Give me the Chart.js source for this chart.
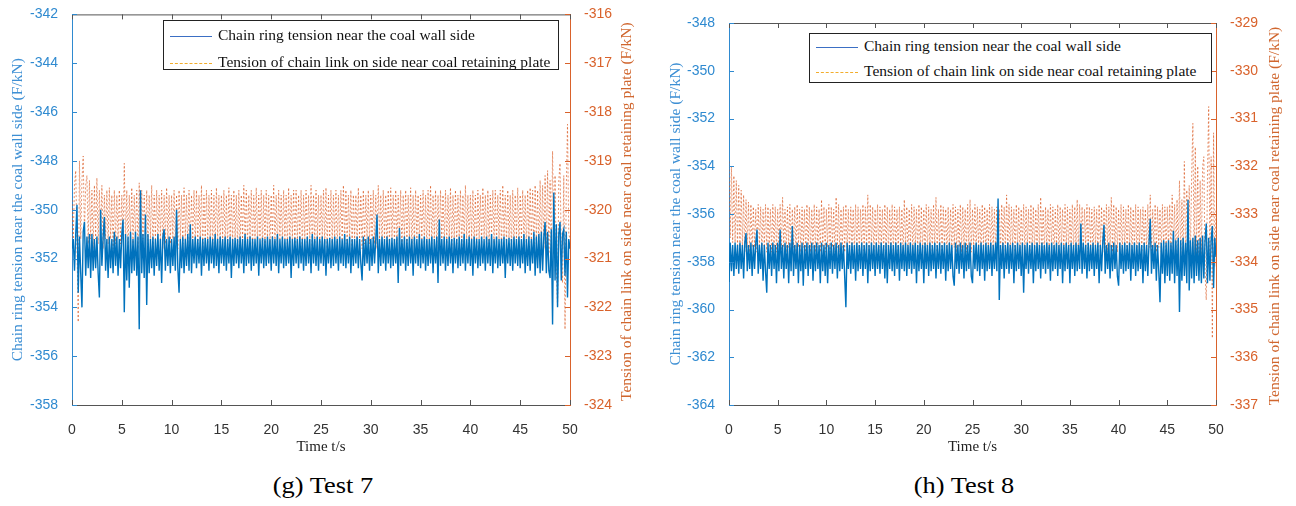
<!DOCTYPE html>
<html>
<head>
<meta charset="utf-8">
<script src="https://cdn.jsdelivr.net/npm/chart.js@4.4.1/dist/chart.umd.min.js"></script>
<style>
  body { margin: 0; width: 1296px; height: 506px; background: #fff; position: relative; overflow: hidden; }
  .panel { position: absolute; top: 0; width: 648px; height: 470px; }
  .legend { position: absolute; border: 1px solid #222; background: #fff; font-family: 'Liberation Serif', serif; font-size: 15.5px; color: #111; }
  .legend .row { position: absolute; left: 6px; height: 20px; line-height: 20px; white-space: nowrap; }
  .legend .solid, .legend .dash { display: inline-block; width: 42px; height: 0; vertical-align: middle; margin-right: 6px; }
  .legend .solid { border-top: 1.5px solid #3b6fc4; }
  .legend .dash { border-top: 1.5px dashed #f2ad2c; }
  .caption { position: absolute; top: 472px; width: 200px; text-align: center; font-family: 'Liberation Serif', serif; font-size: 24px; color: #000; transform: scaleX(1.1); }
</style>
</head>
<body>
<div class="panel" style="left:0"><canvas id="test7" width="648" height="470"></canvas></div>
<div class="panel" style="left:648px"><canvas id="test8" width="648" height="470"></canvas></div>

<div class="legend" style="left:163px;top:20px;width:394px;height:48px">
  <div class="row" style="top:4px"><span class="solid"></span>Chain ring tension near the coal wall side</div>
  <div class="row" style="top:31px"><span class="dash"></span>Tension of chain link on side near coal retaining plate</div>
</div>
<div class="legend" style="left:809px;top:33px;width:401px;height:48px">
  <div class="row" style="top:2px"><span class="solid"></span>Chain ring tension near the coal wall side</div>
  <div class="row" style="top:27px"><span class="dash"></span>Tension of chain link on side near coal retaining plate</div>
</div>

<div class="caption" style="left:223px">(g) Test 7</div>
<div class="caption" style="left:864px">(h) Test 8</div>

<script>
// sampling: one reading every 0.125 s, 0..50 s
var timeStep = 0.125;
var times = [];
for (var i = 0; i <= 400; i++) times.push(i * timeStep);

var wallLabel = 'Chain ring tension near the coal wall side';
var plateLabel = 'Tension of chain link on side near coal retaining plate';
var leftTitle = 'Chain ring tension near the coal wall side (F/kN)';
var rightTitle = 'Tension of chain link on side near coal retaining plate (F/kN)';

// Test 7 - coal wall side (left axis)
var wall7 = [
  -351.6, -351.2, -352.5, -351.0, -349.8, -353.4, -351.1, -352.6, -354.0, -350.9, -350.5, -352.7, -351.1, -352.4, -351.0, -352.8, -351.0, -352.5, -351.2, -352.4,
  -351.1, -352.6, -353.6, -350.0, -352.3, -351.1, -350.3, -352.5, -351.2, -352.8, -351.1, -352.4, -351.2, -352.6, -350.9, -352.3, -351.1, -352.7, -351.2, -352.4,
  -351.0, -350.4, -354.2, -351.0, -352.9, -351.1, -353.2, -350.9, -352.6, -351.2, -352.5, -350.9, -352.7, -351.1, -354.9, -349.2, -352.6, -351.0, -352.8, -350.2,
  -353.9, -351.0, -352.6, -351.2, -352.4, -351.1, -352.7, -351.2, -352.3, -351.0, -352.5, -351.2, -353.0, -351.1, -350.8, -352.5, -351.2, -352.3, -351.1, -352.6,
  -351.2, -352.3, -351.1, -352.5, -350.0, -352.4, -353.4, -351.2, -352.4, -351.1, -352.6, -351.2, -352.3, -351.0, -352.5, -350.6, -352.6, -351.2, -352.2, -351.1,
  -352.4, -351.2, -352.2, -351.1, -352.7, -351.2, -352.3, -351.15, -352.2, -351.2, -352.5, -351.1, -352.2, -351.2, -352.4, -351.0, -352.3, -351.2, -352.6, -351.1,
  -352.2, -351.2, -352.3, -351.1, -352.5, -351.2, -352.2, -351.1, -352.8, -351.2, -352.3, -351.15, -352.2, -351.2, -352.4, -351.1, -352.2, -351.2, -352.6, -351.0,
  -352.3, -351.2, -352.2, -351.1, -352.5, -351.2, -352.3, -351.2, -352.2, -351.1, -352.7, -351.2, -352.2, -351.15, -352.4, -351.2, -352.3, -351.1, -352.2, -351.2,
  -352.5, -351.1, -352.2, -351.2, -352.3, -351.0, -352.6, -351.2, -352.2, -351.1, -352.4, -351.2, -352.3, -351.2, -352.2, -351.1, -352.8, -351.2, -352.3, -351.15,
  -352.2, -351.2, -352.4, -351.1, -352.2, -351.2, -352.5, -351.2, -352.3, -351.1, -352.2, -351.2, -352.6, -351.0, -352.2, -351.2, -352.3, -351.1, -352.5, -351.2,
  -352.2, -351.1, -352.3, -351.2, -352.7, -351.2, -352.2, -351.15, -352.4, -351.2, -352.3, -351.1, -352.2, -351.2, -352.5, -351.1, -352.2, -351.2, -352.3, -351.0,
  -352.4, -351.2, -352.2, -351.1, -352.6, -351.2, -352.3, -351.2, -352.2, -351.1, -352.4, -351.2, -352.2, -352.9, -351.1, -352.3, -351.2, -352.2, -351.1, -352.5,
  -351.2, -352.3, -351.1, -352.2, -351.2, -350.2, -352.6, -351.2, -352.3, -351.1, -352.2, -351.2, -352.5, -351.1, -352.2, -351.2, -352.4, -351.15, -352.3, -351.2,
  -352.2, -351.1, -353.0, -350.75, -352.3, -351.2, -352.2, -351.1, -352.5, -351.2, -352.3, -351.1, -352.2, -351.2, -352.7, -351.1, -352.2, -351.2, -352.3, -351.0,
  -352.4, -351.2, -352.2, -351.1, -352.5, -351.2, -352.3, -351.2, -352.2, -351.1, -352.6, -351.2, -352.2, -351.1, -353.0, -350.4, -352.3, -351.2, -352.2, -351.1,
  -352.5, -351.2, -352.3, -351.1, -352.2, -351.2, -352.6, -351.15, -352.2, -351.2, -352.4, -351.1, -352.3, -351.2, -352.2, -351.0, -352.5, -351.2, -352.2, -351.1,
  -352.3, -351.2, -352.7, -351.1, -352.2, -351.2, -352.4, -351.2, -352.3, -351.1, -352.2, -351.2, -352.5, -351.1, -352.2, -351.2, -352.3, -351.0, -352.6, -351.2,
  -352.2, -351.1, -352.4, -351.2, -352.3, -351.2, -352.2, -351.1, -352.8, -351.2, -352.2, -351.15, -352.3, -351.2, -352.5, -351.1, -352.2, -351.2, -352.3, -351.1,
  -352.4, -351.2, -352.2, -351.0, -352.6, -351.2, -352.3, -351.1, -352.5, -351.2, -352.2, -350.9, -352.7, -351.1, -352.4, -351.0, -352.6, -350.9, -352.5, -351.1,
  -350.5, -352.6, -350.9, -352.5, -352.8, -350.8, -354.7, -349.3, -352.9, -350.6, -354.0, -351.0, -350.5, -352.9, -351.0, -350.8, -352.7, -350.9, -353.6, -351.2,
  -351.6
];

// Test 7 - coal retaining plate side (right axis)
var plate7 = [
  -319.8, -320.6, -319.5, -319.2, -320.7, -322.3, -319.0, -320.6, -319.4, -318.9, -320.5, -319.5, -319.3, -320.7, -319.4, -320.6, -319.6, -320.8, -319.5, -320.6,
  -319.35, -320.7, -319.6, -320.6, -319.5, -320.8, -319.7, -320.6, -319.6, -320.7, -319.55, -320.6, -319.7, -320.8, -319.6, -320.7, -319.7, -320.6, -319.6, -320.7,
  -319.7, -320.6, -319.05, -320.7, -319.6, -320.8, -319.7, -320.6, -319.55, -320.7, -319.7, -320.6, -319.6, -320.8, -319.45, -320.7, -319.6, -320.6, -319.7, -320.7,
  -319.6, -320.7, -319.7, -320.6, -319.5, -320.8, -319.7, -320.6, -319.6, -320.7, -319.7, -320.6, -319.6, -320.8, -319.7, -320.7, -319.55, -320.6, -319.7, -320.7,
  -319.7, -320.6, -319.6, -320.7, -319.7, -320.8, -319.6, -320.6, -319.7, -320.7, -319.55, -320.6, -319.7, -320.8, -319.6, -320.7, -319.7, -320.6, -319.6, -320.7,
  -319.6, -320.7, -319.7, -320.6, -319.5, -320.8, -319.7, -320.6, -319.6, -320.7, -319.7, -320.6, -319.6, -320.8, -319.7, -320.7, -319.55, -320.6, -319.7, -320.7,
  -319.7, -320.6, -319.6, -320.7, -319.7, -320.8, -319.55, -320.6, -319.7, -320.7, -319.6, -320.6, -319.7, -320.8, -319.6, -320.7, -319.7, -320.6, -319.5, -320.7,
  -319.6, -320.7, -319.7, -320.6, -319.6, -320.8, -319.7, -320.6, -319.55, -320.7, -319.7, -320.6, -319.6, -320.8, -319.7, -320.7, -319.6, -320.6, -319.7, -320.7,
  -319.7, -320.6, -319.5, -320.7, -319.7, -320.8, -319.6, -320.6, -319.7, -320.7, -319.6, -320.6, -319.7, -320.8, -319.55, -320.7, -319.7, -320.6, -319.6, -320.7,
  -319.6, -320.7, -319.7, -320.6, -319.6, -320.8, -319.7, -320.6, -319.6, -320.7, -319.7, -320.6, -319.5, -320.8, -319.7, -320.7, -319.6, -320.6, -319.7, -320.7,
  -319.7, -320.6, -319.6, -320.7, -319.55, -320.8, -319.7, -320.6, -319.6, -320.7, -319.7, -320.6, -319.6, -320.8, -319.7, -320.7, -319.6, -320.6, -319.5, -320.7,
  -319.6, -320.7, -319.7, -320.6, -319.6, -320.8, -319.7, -320.6, -319.7, -320.7, -319.55, -320.6, -319.7, -320.8, -319.6, -320.7, -319.7, -320.6, -319.6, -320.7,
  -319.7, -320.6, -319.6, -320.7, -319.7, -320.8, -319.5, -320.6, -319.7, -320.7, -319.6, -320.6, -319.7, -320.8, -319.6, -320.7, -319.55, -320.6, -319.7, -320.7,
  -319.6, -320.7, -319.7, -320.6, -319.6, -320.8, -319.7, -320.6, -319.6, -320.7, -319.7, -320.6, -319.55, -320.8, -319.7, -320.7, -319.6, -320.6, -319.7, -320.7,
  -319.7, -320.6, -319.6, -320.7, -319.7, -320.8, -319.6, -320.6, -319.5, -320.7, -319.7, -320.6, -319.6, -320.8, -319.7, -320.7, -319.6, -320.6, -319.7, -320.7,
  -319.6, -320.7, -319.7, -320.6, -319.55, -320.8, -319.7, -320.6, -319.6, -320.7, -319.7, -320.6, -319.6, -320.8, -319.7, -320.7, -319.5, -320.6, -319.7, -320.7,
  -319.7, -320.6, -319.6, -320.7, -319.7, -320.8, -319.6, -320.6, -319.7, -320.7, -319.55, -320.6, -319.7, -320.8, -319.6, -320.7, -319.7, -320.6, -319.6, -320.7,
  -319.6, -320.7, -319.7, -320.6, -319.6, -320.8, -319.5, -320.6, -319.7, -320.7, -319.6, -320.6, -319.7, -320.8, -319.6, -320.7, -319.7, -320.6, -319.55, -320.7,
  -319.7, -320.6, -319.6, -320.7, -319.7, -320.8, -319.6, -320.6, -319.55, -320.7, -319.6, -320.8, -319.5, -320.7, -319.6, -320.8, -319.4, -320.7, -319.5, -320.8,
  -319.3, -320.8, -319.2, -320.9, -319.4, -321.0, -318.8, -320.9, -319.3, -321.2, -322.0, -319.4, -319.05, -320.9, -321.5, -319.3, -322.45, -319.6, -318.25, -320.5,
  -320.6
];

// Test 8 - coal wall side (left axis)
var wall8 = [
  -358.85, -357.2, -358.4, -357.3, -358.6, -357.2, -358.3, -357.3, -358.5, -357.2, -358.3, -357.3, -358.7, -357.2, -356.8, -358.4, -357.3, -358.3, -357.2, -358.6,
  -357.3, -358.3, -357.2, -356.65, -358.5, -357.3, -358.3, -357.2, -358.8, -357.3, -358.4, -359.3, -357.2, -358.3, -357.3, -358.6, -357.2, -358.3, -357.3, -358.9,
  -357.2, -358.4, -356.65, -358.3, -357.3, -358.7, -357.2, -358.3, -357.3, -358.9, -357.2, -358.4, -356.5, -358.6, -357.3, -358.3, -357.2, -358.9, -357.3, -358.4,
  -357.2, -359.0, -357.3, -358.3, -357.2, -358.6, -357.3, -358.3, -357.2, -358.8, -357.3, -358.4, -357.2, -358.3, -357.3, -358.9, -357.2, -358.4, -357.3, -358.6,
  -357.2, -358.9, -357.3, -358.3, -357.2, -358.5, -357.3, -358.3, -357.2, -358.7, -357.3, -358.4, -357.2, -358.3, -357.3, -358.6, -359.9, -357.2, -358.3, -357.3,
  -358.5, -357.2, -358.3, -357.3, -358.8, -357.2, -358.4, -357.3, -358.3, -357.2, -358.6, -357.3, -358.3, -357.2, -358.9, -357.3, -358.4, -357.2, -358.3, -357.3,
  -358.6, -357.2, -358.3, -357.3, -358.5, -357.2, -358.3, -357.3, -358.7, -357.2, -358.9, -357.3, -358.3, -357.2, -358.4, -357.3, -358.6, -357.2, -358.3, -357.3,
  -358.8, -357.2, -358.3, -357.3, -358.4, -357.2, -358.6, -357.3, -358.3, -357.2, -358.5, -357.3, -358.3, -357.2, -358.9, -357.3, -358.4, -357.2, -358.3, -357.3,
  -358.9, -357.2, -358.3, -357.3, -358.6, -357.2, -358.4, -357.3, -358.3, -357.2, -358.7, -357.3, -358.3, -357.2, -358.5, -357.3, -358.3, -357.2, -358.8, -357.3,
  -358.4, -357.2, -358.3, -357.3, -358.6, -359.0, -357.2, -358.3, -357.3, -358.5, -357.2, -358.3, -357.3, -358.7, -357.2, -358.4, -357.3, -358.3, -357.2, -358.6,
  -358.9, -357.3, -358.3, -357.2, -358.4, -357.3, -358.6, -357.2, -358.3, -357.3, -358.8, -357.2, -358.4, -357.3, -358.3, -357.2, -358.6, -357.3, -358.3, -357.2,
  -358.4, -355.35, -359.6, -357.3, -358.3, -357.2, -358.7, -357.3, -358.3, -357.2, -358.5, -357.3, -358.3, -357.2, -358.9, -357.3, -358.4, -357.2, -358.3, -357.3,
  -358.6, -357.2, -359.3, -357.3, -358.3, -357.2, -358.5, -357.3, -358.3, -357.2, -358.9, -357.3, -358.4, -357.2, -358.3, -357.3, -358.7, -357.2, -358.3, -357.3,
  -358.5, -357.2, -358.3, -357.3, -358.8, -357.2, -358.4, -357.3, -358.3, -357.2, -358.6, -357.3, -358.3, -357.2, -358.9, -357.3, -358.4, -357.2, -358.3, -357.3,
  -358.9, -357.2, -358.3, -357.3, -358.6, -357.2, -358.4, -357.3, -358.3, -356.4, -358.5, -357.2, -358.3, -357.3, -358.7, -357.2, -358.4, -357.3, -358.3, -357.2,
  -358.6, -357.3, -358.3, -357.2, -358.9, -357.3, -358.4, -357.2, -356.45, -358.5, -357.3, -358.3, -357.2, -358.7, -357.3, -358.4, -357.2, -358.3, -357.3, -358.6,
  -359.0, -357.2, -358.3, -357.3, -358.5, -357.2, -358.4, -357.3, -358.3, -357.2, -358.8, -357.3, -358.3, -357.2, -358.6, -357.3, -358.4, -357.2, -358.3, -357.3,
  -358.9, -357.2, -358.4, -357.3, -358.6, -357.2, -356.2, -358.5, -357.3, -358.3, -357.2, -358.8, -357.3, -358.4, -359.7, -357.2, -358.5, -357.1, -358.9, -357.2,
  -358.6, -357.1, -358.8, -357.2, -358.5, -356.7, -358.9, -357.1, -358.6, -357.0, -360.1, -357.1, -358.8, -357.0, -358.6, -357.2, -358.9, -355.4, -359.2, -357.1,
  -358.7, -357.0, -358.9, -356.9, -358.6, -357.1, -358.8, -357.0, -358.9, -356.9, -358.7, -357.1, -356.4, -358.9, -357.0, -358.8, -357.1, -356.5, -359.1, -357.0,
  -357.8
];

// Test 8 - coal retaining plate side (right axis)
var plate8 = [
  -331.9, -333.5, -332.0, -333.6, -332.2, -333.6, -332.3, -333.7, -332.4, -333.7, -332.5, -333.7, -332.6, -333.8, -332.7, -333.7, -332.75, -333.8, -332.8, -333.7,
  -332.85, -333.7, -332.9, -333.8, -332.8, -333.7, -332.85, -333.8, -332.9, -333.7, -332.8, -333.8, -332.85, -333.7, -332.9, -333.8, -332.8, -333.7, -332.85, -333.8,
  -332.9, -333.7, -332.8, -333.8, -332.65, -333.7, -332.9, -333.8, -332.85, -333.7, -332.8, -333.8, -332.9, -333.7, -332.85, -333.8, -332.8, -333.7, -332.9, -333.8,
  -332.85, -333.7, -332.9, -333.8, -332.8, -333.7, -332.85, -333.8, -332.9, -333.7, -332.8, -333.8, -332.85, -333.7, -332.9, -333.8, -332.7, -333.7, -332.85, -333.8,
  -332.9, -333.7, -332.8, -333.8, -332.85, -333.7, -332.9, -333.8, -332.65, -333.7, -332.8, -333.8, -332.9, -333.7, -332.85, -333.8, -332.8, -333.7, -332.9, -333.8,
  -332.85, -333.7, -332.9, -333.8, -332.8, -333.7, -332.85, -333.8, -332.9, -333.7, -332.8, -333.8, -332.85, -333.7, -332.6, -333.8, -332.8, -333.7, -332.85, -333.8,
  -332.9, -333.7, -332.8, -333.8, -332.85, -333.7, -332.9, -333.8, -332.8, -333.7, -332.85, -333.8, -332.9, -333.7, -332.8, -333.8, -332.85, -333.7, -332.9, -333.8,
  -332.85, -333.7, -332.9, -333.8, -332.7, -333.7, -332.85, -333.8, -332.9, -333.7, -332.8, -333.8, -332.85, -333.7, -332.9, -333.8, -332.8, -333.7, -332.85, -333.8,
  -332.9, -333.7, -332.8, -333.8, -332.85, -333.7, -332.9, -333.8, -332.8, -333.7, -332.65, -333.8, -332.9, -333.7, -332.8, -333.8, -332.85, -333.7, -332.9, -333.8,
  -332.85, -333.7, -332.9, -333.8, -332.8, -333.7, -332.85, -333.8, -332.9, -333.7, -332.8, -333.8, -332.85, -333.7, -332.9, -333.8, -332.8, -333.7, -332.7, -333.8,
  -332.9, -333.7, -332.8, -333.8, -332.85, -333.7, -332.9, -333.8, -332.8, -333.7, -332.85, -333.8, -332.9, -333.7, -332.8, -333.8, -332.85, -333.7, -332.9, -333.8,
  -332.85, -333.7, -332.9, -333.8, -332.8, -333.7, -332.85, -333.8, -332.6, -333.7, -332.8, -333.8, -332.85, -333.7, -332.9, -333.8, -332.8, -333.7, -332.85, -333.8,
  -332.9, -333.7, -332.8, -333.8, -332.85, -333.7, -332.9, -333.8, -332.8, -333.7, -332.85, -333.8, -332.9, -333.7, -332.8, -333.8, -332.65, -333.7, -332.9, -333.8,
  -332.85, -333.7, -332.9, -333.8, -332.8, -333.7, -332.85, -333.8, -332.9, -333.7, -332.8, -333.8, -332.85, -333.7, -332.9, -333.8, -332.8, -333.7, -332.85, -333.8,
  -332.9, -333.7, -332.8, -333.8, -332.85, -333.7, -332.7, -333.8, -332.8, -333.7, -332.85, -333.8, -332.9, -333.7, -332.8, -333.8, -332.85, -333.7, -332.9, -333.8,
  -332.85, -333.7, -332.9, -333.8, -332.8, -333.7, -332.85, -333.8, -332.9, -333.7, -332.8, -333.8, -332.85, -333.7, -332.65, -333.8, -332.8, -333.7, -332.85, -333.8,
  -332.9, -333.7, -332.8, -333.8, -332.85, -333.7, -332.9, -333.8, -332.8, -333.7, -332.85, -333.8, -332.9, -333.7, -332.8, -333.8, -332.85, -333.7, -332.9, -333.8,
  -332.85, -333.7, -332.9, -333.8, -332.8, -333.7, -332.6, -333.8, -332.9, -333.7, -332.8, -333.8, -332.85, -333.7, -332.9, -333.8, -332.8, -333.7, -332.85, -333.8,
  -332.85, -333.7, -332.8, -333.8, -332.6, -333.8, -332.8, -333.9, -332.7, -333.8, -332.3, -333.9, -332.7, -333.8, -331.9, -333.9, -332.5, -333.8, -332.4, -333.9,
  -332.2, -331.1, -334.0, -331.6, -333.9, -332.0, -334.0, -332.3, -333.9, -332.0, -331.8, -334.2, -334.8, -332.2, -330.75, -334.0, -331.8, -335.6, -331.3, -334.1,
  -332.9
];

var blue = '#0072BD';
var blueText = '#2f8ad0';
var orange = 'rgba(217,83,25,0.7)';
var orangeText = '#d9622b';

// MATLAB-like box: inward tick marks, top edge, right-hand title read bottom-to-top
var boxTicks = {
  id: 'boxTicks',
  afterDatasetsDraw: function(chart) {
    var ctx = chart.ctx, a = chart.chartArea, s = chart.scales;
    ctx.save();
    ctx.lineWidth = 1;
    ctx.strokeStyle = '#555';
    ctx.beginPath();
    ctx.moveTo(a.left, a.top + 0.5);
    ctx.lineTo(a.right, a.top + 0.5);
    s.x.ticks.forEach(function(t) {
      var px = Math.round(s.x.getPixelForValue(t.value)) + 0.5;
      ctx.moveTo(px, a.bottom); ctx.lineTo(px, a.bottom - 5);
      ctx.moveTo(px, a.top); ctx.lineTo(px, a.top + 5);
    });
    ctx.stroke();
    ctx.strokeStyle = blueText;
    ctx.beginPath();
    s.y.ticks.forEach(function(t) {
      var py = Math.round(s.y.getPixelForValue(t.value)) + 0.5;
      ctx.moveTo(a.left, py); ctx.lineTo(a.left + 5, py);
    });
    ctx.stroke();
    ctx.strokeStyle = orangeText;
    ctx.beginPath();
    s.y1.ticks.forEach(function(t) {
      var py = Math.round(s.y1.getPixelForValue(t.value)) + 0.5;
      ctx.moveTo(a.right, py); ctx.lineTo(a.right - 5, py);
    });
    ctx.stroke();
    // right axis title
    ctx.translate(chart.width - 21, (a.top + a.bottom) / 2 + 2);
    ctx.rotate(-Math.PI / 2);
    ctx.fillStyle = '#d0662e';
    ctx.font = '15.5px "Liberation Serif"';
    ctx.textAlign = 'center';
    ctx.textBaseline = 'middle';
    ctx.fillText(rightTitle, 0, 0);
    ctx.restore();
  }
};

function makeChart(id, wall, plate, leftMin, leftMax, rightMin, rightMax, padTop, leftW, rightW, leftTitlePad) {
  var tickFont = { family: 'Liberation Sans', size: 14 };
  var titleFont = { family: 'Liberation Serif', size: 15.5 };
  new Chart(document.getElementById(id), {
    type: 'line',
    data: {
      labels: times,
      datasets: [
        { label: wallLabel, data: wall, yAxisID: 'y', borderColor: blue, borderWidth: 1.4, pointRadius: 0, tension: 0 },
        { label: plateLabel, data: plate, yAxisID: 'y1', borderColor: orange, borderWidth: 0.9, borderDash: [2, 2], pointRadius: 0, tension: 0 }
      ]
    },
    options: {
      responsive: false,
      animation: false,
      layout: { padding: { top: padTop, left: 0, right: 0, bottom: 0 } },
      plugins: { legend: { display: false }, tooltip: { enabled: false } },
      scales: {
        x: {
          type: 'linear', min: 0, max: 50,
          grid: { display: false },
          border: { display: true, color: '#555', width: 1 },
          ticks: { stepSize: 5, color: '#333', font: tickFont, padding: 9, maxRotation: 0 },
          title: { display: true, text: 'Time t/s', color: '#222', font: { family: 'Liberation Serif', size: 15 }, padding: { top: 0, bottom: 14 } },
          afterFit: function(sc) { sc.height = 65; }
        },
        y: {
          position: 'left', min: leftMin, max: leftMax,
          grid: { display: false },
          border: { display: true, color: blueText, width: 1 },
          ticks: { stepSize: 2, color: blueText, font: tickFont, padding: 6 },
          title: { display: true, text: leftTitle, color: '#3d8fd4', font: titleFont, padding: { top: leftTitlePad, bottom: 0 } },
          afterFit: function(sc) { sc.width = leftW; }
        },
        y1: {
          position: 'right', min: rightMin, max: rightMax,
          grid: { display: false },
          border: { display: true, color: orangeText, width: 1 },
          ticks: { stepSize: 1, color: orangeText, font: tickFont, padding: 6 },
          afterFit: function(sc) { sc.width = rightW; }
        }
      }
    },
    plugins: [boxTicks]
  });
}

makeChart('test7', wall7, plate7, -358, -342, -324, -316, 13, 72, 78, 9);
makeChart('test8', wall8, plate8, -364, -348, -337, -329, 23, 81, 80, 19);
</script>
</body>
</html>
